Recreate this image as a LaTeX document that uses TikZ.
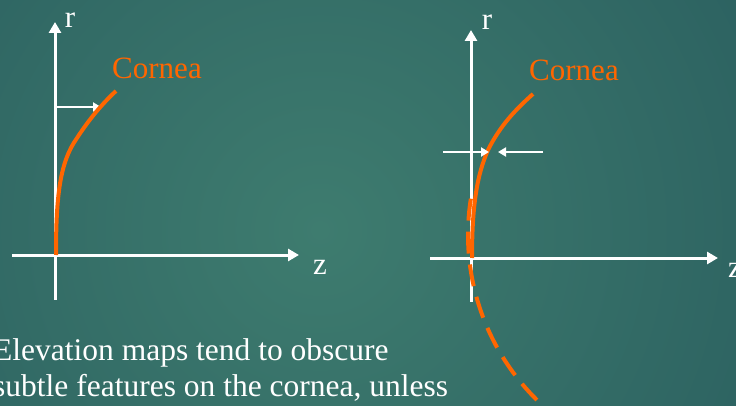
\documentclass[tikz,border=0pt]{standalone}
\usepackage{fontspec}
\setmainfont{Liberation Serif}
\usetikzlibrary{arrows.meta}
\definecolor{bgdark}{RGB}{31,78,86}
\definecolor{bgmid}{RGB}{44,98,96}
\definecolor{bglight}{RGB}{62,124,111}
\definecolor{corneaorange}{RGB}{255,102,0}
\tikzset{
  axis/.style={draw=white, line width=3pt, -{Triangle[length=11pt,width=12pt]}},
  axisline/.style={draw=white, line width=3pt},
  marker/.style={draw=white, line width=2.5pt, -{Triangle[length=8pt,width=9pt]}},
  curve/.style={draw=corneaorange, line width=4pt},
  dashcurve/.style={draw=corneaorange, line width=4pt, dash pattern=on 22pt off 11pt},
  lbl/.style={text=white, font=\fontsize{31}{37}\selectfont, inner sep=0pt},
  olbl/.style={text=corneaorange, font=\fontsize{31}{37}\selectfont, inner sep=0pt},
  body/.style={text=white, font=\fontsize{31.5}{36}\selectfont, inner sep=0pt, align=left, anchor=north west}
}
\begin{document}
\begin{tikzpicture}[x=1pt,y=-1pt]
  \useasboundingbox (0,0) rectangle (736,406);
  \begin{scope}
    \clip (0,0) rectangle (736,406);
    \fill[bgdark] (0,0) rectangle (736,406);
    \shade[inner color=bglight, outer color=bgdark] (320,230) circle (860);
  \end{scope}

  % ---- left diagram ----
  \coordinate (L0) at (55,255);
  \coordinate (Ltop) at (55,22);
  \coordinate (Lbot) at (55,300);
  \coordinate (Lleft) at (12,255);
  \coordinate (Lright) at (299,255);
  \draw[axisline] (L0) -- (Lbot);
  \draw[axis] (L0) -- (Ltop);
  \draw[axisline] (L0) -- (Lleft);
  \draw[axis] (L0) -- (Lright);
  \node[lbl] (rL) at (70,20) {r};
  \node[lbl] (zL) at (320,267) {z};
  \coordinate (Lm1) at (57,107);
  \coordinate (Lm2) at (101,107);
  \draw[marker] (Lm1) -- (Lm2);
  \coordinate (Lc0) at (56,255);
  \coordinate (Lc1) at (116,91);
  \draw[curve] (Lc0) .. controls (56,195) and (60,162) .. (77,138)
                      .. controls (90,118) and (103,103) .. (Lc1);
  \node[olbl] (cL) at (157,68) {Cornea};

  % ---- right diagram ----
  \coordinate (R0) at (471,258);
  \coordinate (Rtop) at (471,30);
  \coordinate (Rbot) at (471,302);
  \coordinate (Rleft) at (430,258);
  \coordinate (Rright) at (718,258);
  \draw[axisline] (R0) -- (Rbot);
  \draw[axis] (R0) -- (Rtop);
  \draw[axisline] (R0) -- (Rleft);
  \draw[axis] (R0) -- (Rright);
  \node[lbl] (rR) at (487,22) {r};
  \node[lbl, anchor=west] (zR) at (728,270) {z};
  \draw[dashcurve] plot[domain=-9:50, samples=60, smooth] ({700-232*cos(\x)}, {235+232*sin(\x)});
  \coordinate (Rc0) at (472,258);
  \coordinate (Rc1) at (533,94);
  \draw[curve] (Rc0) .. controls (472,205) and (477,175) .. (488,150)
                      .. controls (500,126) and (515,110) .. (Rc1);
  \coordinate (Rm1) at (443,152);
  \coordinate (Rm2) at (489,152);
  \coordinate (Rm3) at (543,152);
  \coordinate (Rm4) at (498,152);
  \draw[marker] (Rm1) -- (Rm2);
  \draw[marker] (Rm3) -- (Rm4);
  \node[olbl] (cR) at (574,70) {Cornea};

  % ---- text ----
  \node[body] (txt) at (-7,338) {Elevation maps tend to obscure\\subtle features on the cornea, unless};
\end{tikzpicture}
\end{document}
